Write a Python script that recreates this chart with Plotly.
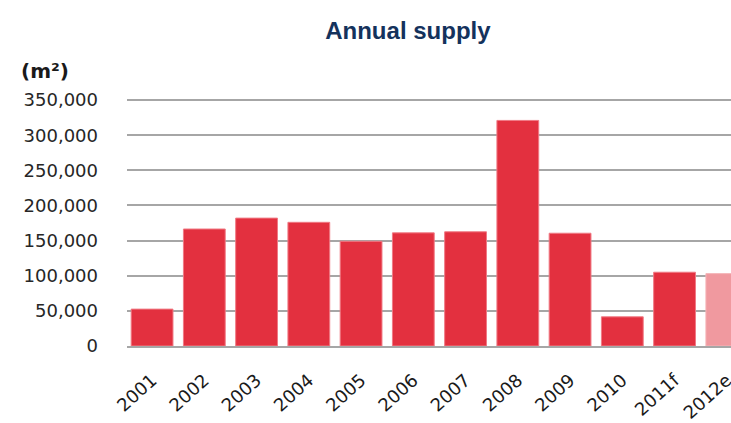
import plotly.graph_objects as go

categories = ["2001", "2002", "2003", "2004", "2005", "2006", "2007", "2008", "2009", "2010", "2011f", "2012e"]
supply = [52500, 166500, 182000, 176000, 149000, 161000, 162500, 321000, 160500, 41500, 105000, 103000]
bar_colors = ["#E3303F"] * 11 + ["#F0999F"]
line_colors = ["#F07A84"] * 11 + ["#F5B5B9"]
y_ticks = [0, 50000, 100000, 150000, 200000, 250000, 300000, 350000]
y_tick_text = ["0", "50,000", "100,000", "150,000", "200,000", "250,000", "300,000", "350,000"]

fig = go.Figure(
    go.Bar(
        x=categories,
        y=supply,
        marker=dict(color=bar_colors, line=dict(color=line_colors, width=1)),
    )
)

fig.update_layout(
    width=731,
    height=423,
    margin=dict(l=127, r=0, t=99, b=77, autoexpand=False),
    plot_bgcolor="white",
    paper_bgcolor="white",
    bargap=0.2,
    showlegend=False,
    title=dict(
        text="<b>Annual supply</b>",
        x=0.558,
        xanchor="center",
        y=0.928,
        yanchor="middle",
        font=dict(family="Liberation Sans, Arial", size=24, color="#14325C"),
    ),
    font=dict(family="DejaVu Sans", color="#262626"),
    annotations=[
        dict(
            text="<b>(m²)</b>",
            xref="paper", yref="paper",
            x=-0.178, y=1.055,
            xanchor="left", yanchor="bottom",
            showarrow=False,
            font=dict(family="DejaVu Sans", size=20, color="#1a1a1a"),
        )
    ],
)

fig.update_yaxes(
    range=[0, 351500],
    tickvals=y_ticks,
    ticktext=y_tick_text,
    showgrid=True,
    gridcolor="#A6A6A6",
    gridwidth=1.5,
    zeroline=False,
    showline=False,
    ticks="",
    automargin=False,
    ticklabelstandoff=28,
    tickfont=dict(family="DejaVu Sans", size=18, color="#262626"),
)

fig.update_xaxes(
    range=[-0.48, 11.08],
    tickangle=-42,
    showgrid=False,
    showline=True,
    linecolor="#A6A6A6",
    linewidth=1.5,
    ticks="",
    automargin=False,
    ticklabelstandoff=15,
    tickfont=dict(family="DejaVu Sans", size=18, color="#1a1a1a"),
)

fig.write_html("out.html")
